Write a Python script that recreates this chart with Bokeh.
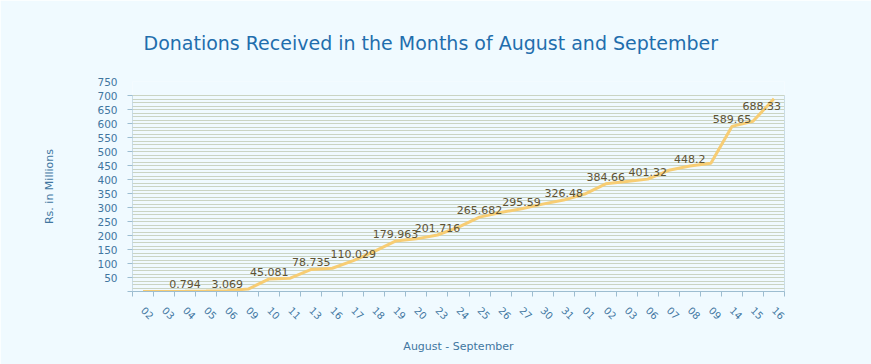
import numpy as np
from bokeh.plotting import figure
from bokeh.models import ColumnDataSource, FixedTicker, Title, BoxAnnotation, Grid
from bokeh.core.properties import value
from bokeh.embed import file_html
from bokeh.resources import INLINE

days = ["02", "03", "04", "05", "06", "09", "10", "11", "13", "16", "17", "18", "19", "20",
        "23", "24", "25", "26", "27", "30", "31",
        "01", "02", "03", "06", "07", "08", "09", "14", "15", "16"]
donations = [0.1, 0.3, 0.794, 1.6, 3.069, 8.5, 45.081, 47.5, 78.735, 83.0, 110.029, 143.0,
             179.963, 188.0, 201.716, 230.0, 265.682, 282.0, 295.59, 312.0, 326.48, 348.0,
             384.66, 393.0, 401.32, 433.0, 448.2, 458.0, 589.65, 608.0, 688.33]
value_labels = ["", "", "0.794", "", "3.069", "", "45.081", "", "78.735", "", "110.029", "",
                "179.963", "", "201.716", "", "265.682", "", "295.59", "", "326.48", "",
                "384.66", "", "401.32", "", "448.2", "", "589.65", "", "688.33"]
y_tick_labels = list(range(0, 751, 50))
plot_top = 700
grid_step = 12.5

FONT = "DejaVu Sans"
BLUE_TXT = "#41769f"
AXIS_COL = "#9dbdd0"
BG = "#f0faff"

n = len(days)
xs = [i + 0.5 for i in range(n)]

p = figure(width=871, height=364, output_backend="svg", toolbar_location=None,
           x_range=(0, n), y_range=(0, y_tick_labels[-1]),
           min_border_left=132, min_border_right=87, min_border_top=81, min_border_bottom=73)
p.background_fill_color = BG
p.border_fill_color = BG
p.outline_line_color = None

xa = p.below[0]
ya = p.left[0]

# plot area (0..700) with border
p.add_layout(BoxAnnotation(bottom=0, top=plot_top, fill_color=BG, fill_alpha=1,
                           line_color=AXIS_COL, line_width=1, line_alpha=1, level="image"))

# title
p.title = Title(text="Donations Received in the Months of August and September",
                align="left", text_font=FONT, text_font_size="19px",
                text_font_style="normal", text_color="#1f6ead", standoff=56, offset=11)

# line
src = ColumnDataSource(dict(x=xs, y=donations, t=value_labels,
                            align=["center"] * (n - 1) + ["right"],
                            xo=[0] * (n - 1) + [7],
                            yo=[-7] * (n - 1) + [7]))
p.line("x", "y", source=src, line_color="#f7cd74", line_width=3)
p.text("x", "y", text="t", source=src, text_align="align", text_baseline="alphabetic",
       x_offset="xo", y_offset="yo",
       text_font=value(FONT), text_font_size="11px", text_color="#5e5335")

# x axis
xa.ticker = FixedTicker(ticks=xs, minor_ticks=list(range(n + 1)))
xa.major_label_overrides = {x: d for x, d in zip(xs, days)}
xa.major_label_orientation = -np.pi / 4
xa.major_tick_line_color = None
xa.minor_tick_line_color = AXIS_COL
xa.minor_tick_out = 5
xa.minor_tick_in = 0
xa.axis_line_color = AXIS_COL
xa.major_label_text_font = FONT
xa.major_label_text_font_size = "10px"
xa.major_label_text_color = BLUE_TXT
xa.major_label_standoff = 11
xa.axis_label = "August - September"
xa.axis_label_text_font = FONT
xa.axis_label_text_font_size = "11px"
xa.axis_label_text_font_style = "normal"
xa.axis_label_text_color = BLUE_TXT
xa.axis_label_standoff = 14

# y axis
ya.ticker = FixedTicker(ticks=y_tick_labels, minor_ticks=list(range(0, plot_top + 1, 50)))
ya.major_label_overrides = {0: ""}
ya.major_tick_line_color = None
ya.minor_tick_line_color = AXIS_COL
ya.minor_tick_out = 5
ya.minor_tick_in = 0
ya.axis_line_color = None
ya.major_label_text_font = FONT
ya.major_label_text_font_size = "10.5px"
ya.major_label_text_color = BLUE_TXT
ya.major_label_standoff = 9
ya.axis_label = "Rs. in Millions"
ya.axis_label_text_font = FONT
ya.axis_label_text_font_size = "11px"
ya.axis_label_text_font_style = "normal"
ya.axis_label_text_color = BLUE_TXT
ya.axis_label_standoff = 38

# grid: beige line with blue-grey dots on it
grid_ticks = list(np.arange(0, plot_top + 0.1, grid_step))
p.xgrid.grid_line_color = None
p.ygrid.grid_line_color = None
p.add_layout(Grid(dimension=1, ticker=FixedTicker(ticks=grid_ticks), bounds=(0, plot_top),
                  grid_line_color="#e6e0b0", grid_line_width=1))
p.add_layout(Grid(dimension=1, ticker=FixedTicker(ticks=grid_ticks), bounds=(0, plot_top),
                  grid_line_color="#afc8d6", grid_line_dash="1 1", grid_line_width=1))

open("out.html", "w").write(file_html(p, INLINE))
